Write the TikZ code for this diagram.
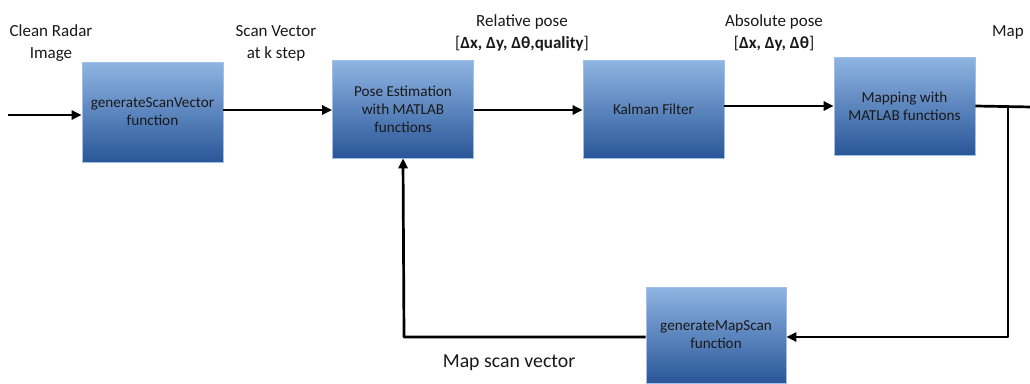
\documentclass[tikz,border=0pt]{standalone}
\usepackage{fontspec}
\setmainfont{Carlito}
\usetikzlibrary{arrows.meta}
\definecolor{boxtop}{RGB}{143,181,227}
\definecolor{boxmid}{RGB}{80,130,192}
\definecolor{boxbot}{RGB}{42,86,152}
\definecolor{boxedge}{RGB}{160,192,232}
\definecolor{txt}{RGB}{25,25,25}
\tikzset{
  blk/.style={draw=boxedge, line width=0.6pt, top color=boxtop, middle color=boxmid, bottom color=boxbot,
    minimum width=141pt, minimum height=98pt, inner sep=0pt, align=center, text=txt,
    font=\fontsize{15.2}{17.8}\selectfont},
  lbl/.style={align=center, text=txt, inner sep=0pt, font=\fontsize{17}{22}\selectfont},
  arr/.style={line width=2.7pt, -{Triangle[length=10pt,width=9pt]}},
  ln/.style={line width=2.7pt}
}
\begin{document}
\begin{tikzpicture}[x=1pt,y=-1pt]
\useasboundingbox (0,0) rectangle (1030,383);
\node[blk, minimum height=100pt] (b1) at (152.5,112) {generateScanVector\\function};
\node[blk] (b2) at (403,109) {Pose Estimation\\with MATLAB\\functions};
\node[blk] (b3) at (653.5,109) {Kalman Filter};
\node[blk] (b4) at (904.5,106) {Mapping with\\MATLAB functions};
\node[blk, minimum width=140pt, minimum height=96pt] (b5) at (716,335) {generateMapScan\\function};
\node[lbl] (t1) at (51,43) {Clean Radar\\Image};
\node[lbl] (t2) at (276,43) {Scan Vector\\at k step};
\node[lbl] (t3) at (522,33) {Relative pose\\{}[\textbf{Δx, Δy, Δθ,quality}]};
\node[lbl] (t4) at (774,33) {Absolute pose\\{}[\textbf{Δx, Δy, Δθ}]};
\node[lbl] (t5) at (1008,32) {Map};
\node[lbl, font=\fontsize{19.8}{24}\selectfont] (t6) at (509,363) {Map scan vector};
\coordinate (in) at (8,115);
\coordinate (out) at (1032,107);
\coordinate (jn) at (1008,107);
\coordinate (jd) at (1008,337);
\coordinate (fb) at (404,337);
\draw[arr] (in) -- (in -| b1.west);
\draw[arr] (b1.east |- 0,110) -- (b2.west |- 0,110);
\draw[arr] (b2.east |- 0,110) -- (b3.west |- 0,110);
\draw[arr] (b3.east |- b4) -- (b4.west);
\draw[ln] (b4.east) -- (out);
\draw[arr, line join=round] (jn) -- (jd) -- (jd -| b5.east);
\draw[arr, line join=round] (b5.west |- fb) -- (fb) -- (b2.south);
\end{tikzpicture}
\end{document}
